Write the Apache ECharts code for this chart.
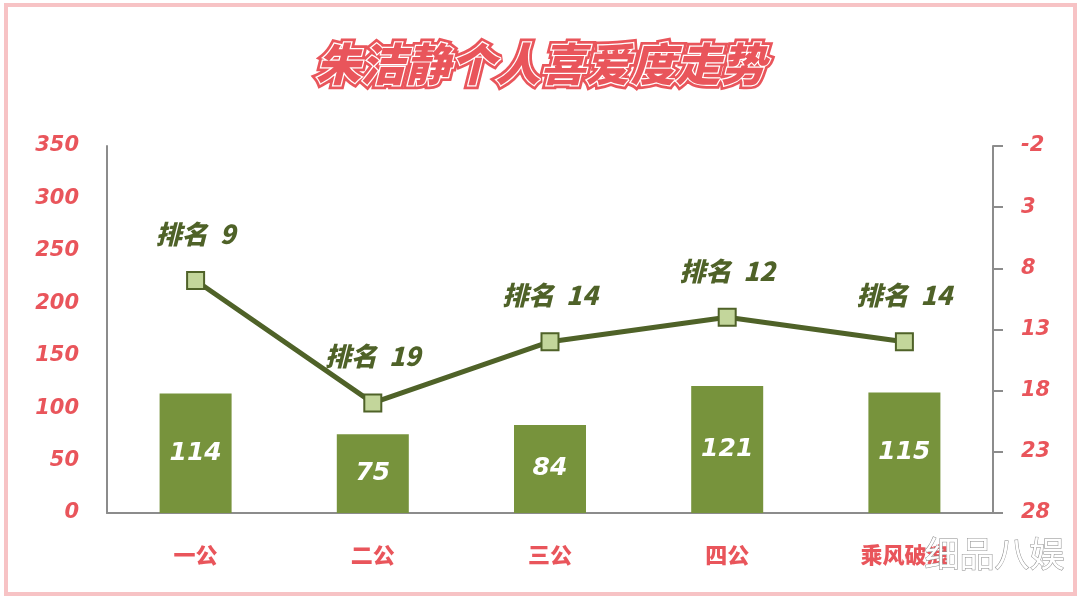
<!DOCTYPE html>
<html>
<head>
<meta charset="utf-8">
<script src="https://cdn.jsdelivr.net/npm/echarts@6/dist/echarts.min.js"></script>
<style>html,body{margin:0;padding:0;background:#fff}#c{width:1081px;height:600px}</style>
</head>
<body>
<div id="c"></div>
<script>
var categories = ['一公', '二公', '三公', '四公', '乘风破浪'];
var scores = [114, 75, 84, 121, 115];
var ranks = [9, 19, 14, 12, 14];
var leftTicks = [0, 50, 100, 150, 200, 250, 300, 350];
var rightTicks = [-2, 3, 8, 13, 18, 23, 28];

var red = '#e9555b';
var chart = echarts.init(document.getElementById('c'));
var titleText = '朱洁静个人喜爱度走势';
var titleFont = {fontSize: 45, fontWeight: 900, fontStyle: 'italic', fontFamily: 'Noto Sans CJK SC'};
chart.setOption({
  backgroundColor: '#fff',
  title: [
    {text: titleText, left: 'center', top: 36, textStyle: Object.assign({color: red, textBorderColor: red, textBorderWidth: 8}, titleFont)},
    {text: titleText, left: 'center', top: 36, textStyle: Object.assign({color: red, textBorderColor: '#fff', textBorderWidth: 2.5}, titleFont)}
  ],
  graphic: [
    {type: 'rect', shape: {x: 6, y: 5, width: 1069, height: 589}, style: {fill: 'none', stroke: '#f7c3c5', lineWidth: 4}, silent: true},
    {type: 'text', right: 16, top: 536, style: {text: '细品八娱', fill: '#fff', stroke: '#8a8a8a', lineWidth: 1, fontSize: 35, fontFamily: 'Noto Sans CJK SC'}, z: 100}
  ],
  grid: {left: 107, right: 88, top: 146, bottom: 87},
  xAxis: {
    type: 'category',
    data: categories,
    axisLine: {lineStyle: {color: '#8c8c8c', width: 2}},
    axisTick: {show: false},
    axisLabel: {color: red, fontSize: 22, fontWeight: 900, fontFamily: 'Noto Sans CJK SC', margin: 31}
  },
  yAxis: [
    {
      type: 'value', min: 0, max: 350, interval: 50,
      axisLine: {show: true, lineStyle: {color: '#8c8c8c', width: 2}},
      axisTick: {show: false},
      splitLine: {show: false},
      axisLabel: {color: red, fontSize: 21, fontWeight: 'bold', fontStyle: 'italic', fontFamily: 'DejaVu Sans', margin: 28,
        customValues: leftTicks}
    },
    {
      type: 'value', min: -2, max: 28, inverse: true, position: 'right',
      axisLine: {show: true, lineStyle: {color: '#8c8c8c', width: 2}},
      axisTick: {show: true, inside: false, length: 10, lineStyle: {color: '#8c8c8c', width: 2}, customValues: rightTicks},
      splitLine: {show: false},
      axisLabel: {color: red, fontSize: 21, fontWeight: 'bold', fontStyle: 'italic', fontFamily: 'DejaVu Sans', margin: 28,
        customValues: rightTicks}
    }
  ],
  series: [
    {
      type: 'bar', data: scores, yAxisIndex: 0, barWidth: 72,
      itemStyle: {color: '#77933c'},
      label: {show: true, position: 'inside', color: '#fff', fontSize: 25, fontWeight: 'bold', fontStyle: 'italic', fontFamily: 'DejaVu Sans'}
    },
    {
      type: 'line', data: ranks, yAxisIndex: 1,
      lineStyle: {color: '#4f6228', width: 5},
      symbol: 'rect', symbolSize: 17,
      itemStyle: {color: '#c3d69b', borderColor: '#4f6228', borderWidth: 2},
      label: {show: true, position: 'top', distance: 24, formatter: '排名  {c}', color: '#4f6228', fontSize: 26, fontWeight: 900, fontStyle: 'italic', fontFamily: 'Noto Sans CJK SC'},
      z: 5
    }
  ]
});
</script>
</body>
</html>
